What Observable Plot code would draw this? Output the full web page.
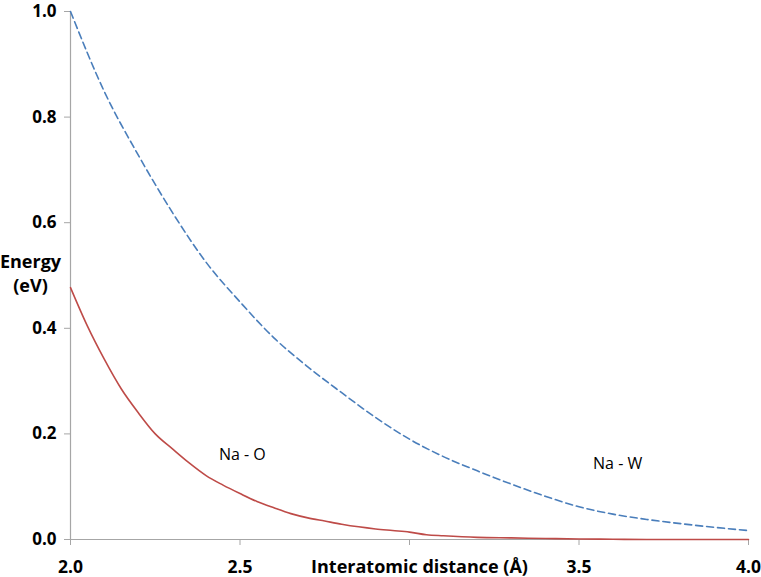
<!DOCTYPE html>
<html>
<head>
<meta charset="utf-8">
<script src="https://cdn.jsdelivr.net/npm/d3@7"></script>
<script src="https://cdn.jsdelivr.net/npm/@observablehq/plot@0.6"></script>
<style>
  html, body { margin: 0; padding: 0; background: #fff; }
</style>
</head>
<body>
<div id="chart"></div>
<script>
// Na - W (blue dashed)
const rNaW = [2.0, 2.1, 2.2, 2.3, 2.4, 2.5, 2.6, 2.7, 2.8, 2.9, 3.0, 3.1, 3.2, 3.3, 3.4, 3.5, 3.6, 3.7, 3.8, 3.9, 4.0];
const eNaW = [1.0, 0.848, 0.728, 0.620, 0.525, 0.450, 0.382, 0.327, 0.278, 0.231, 0.190, 0.157, 0.130, 0.105, 0.082, 0.062, 0.048, 0.038, 0.030, 0.023, 0.017];
// Na - O (red solid)
const rNaO = [2.0, 2.05, 2.1, 2.15, 2.2, 2.25, 2.3, 2.35, 2.4, 2.45, 2.5, 2.55, 2.6, 2.65, 2.7, 2.75, 2.8, 2.85, 2.9, 2.95, 3.0, 3.05, 3.1, 3.2, 3.3, 3.4, 3.5, 3.6, 3.7, 4.0];
const eNaO = [0.477, 0.404, 0.341, 0.285, 0.240, 0.200, 0.172, 0.145, 0.121, 0.103, 0.087, 0.072, 0.060, 0.049, 0.041, 0.035, 0.029, 0.024, 0.020, 0.017, 0.014, 0.009, 0.007, 0.004, 0.003, 0.002, 0.001, 0.0005, 0, 0];

const xTicks = [2.0, 2.5, 3.0, 3.5, 4.0];
const xTickLabels = ["2.0", "2.5", "", "3.5", "4.0"];
const yTicks = [0, 0.2, 0.4, 0.6, 0.8, 1.0];
const yTickLabels = ["0.0", "0.2", "0.4", "0.6", "0.8", "1.0"];

const seriesLabels = ["Na - O", "Na - W"];
const seriesLabelX = [2.507, 3.614];
const seriesLabelY = [0.16, 0.143];

const xTitle = "Interatomic distance (Å)";
const yTitle = "Energy\n(eV)";

const naW = rNaW.map((r, i) => ({r, e: eNaW[i]}));
const naO = rNaO.map((r, i) => ({r, e: eNaO[i]}));
const lbls = seriesLabels.map((t, i) => ({t, x: seriesLabelX[i], y: seriesLabelY[i]}));

const axisGray = "#a6a6a6";
const font = "'Open Sans', sans-serif";

const chart = Plot.plot({
  width: 761,
  height: 577,
  marginLeft: 70,
  marginRight: 13,
  marginTop: 11,
  marginBottom: 38,
  style: {fontFamily: font, background: "#fff", overflow: "visible"},
  x: {domain: [2, 4]},
  y: {domain: [0, 1]},
  marks: [
    Plot.ruleX([2], {stroke: axisGray, strokeWidth: 1.2}),
    Plot.ruleY([0], {stroke: axisGray, strokeWidth: 1.2}),
    Plot.axisY({
      ticks: yTicks, tickSize: 6, tickPadding: 8, stroke: axisGray, fill: "black",
      tickFormat: (d) => yTickLabels[yTicks.indexOf(d)] ?? d3.format(".1f")(d),
      fontSize: 17, fontWeight: "bold", label: null
    }),
    Plot.axisX({
      ticks: xTicks, tickSize: 6, tickPadding: 15, stroke: axisGray, fill: "black",
      tickFormat: (d) => xTickLabels[xTicks.indexOf(d)] ?? "",
      fontSize: 17.5, fontWeight: "bold", label: null
    }),
    Plot.line(naO, {x: "r", y: "e", stroke: "#be4b48", strokeWidth: 1.6, curve: "monotone-x"}),
    Plot.line(naW, {x: "r", y: "e", stroke: "#4a7ebb", strokeWidth: 1.6, strokeDasharray: "7,4", curve: "monotone-x"}),
    Plot.text(lbls, {x: "x", y: "y", text: "t", fontSize: 16, fill: "black"}),
    Plot.text([xTitle], {frameAnchor: "bottom", dx: 10, dy: 33, text: (d) => d, fontSize: 18, fontWeight: "bold", fill: "black"}),
    Plot.text([yTitle], {frameAnchor: "left", dx: -40, dy: -3, text: (d) => d, fontSize: 18, fontWeight: "bold", fill: "black", textAnchor: "middle", lineHeight: 1.35})
  ]
});
document.getElementById("chart").appendChild(chart);
</script>
</body>
</html>
